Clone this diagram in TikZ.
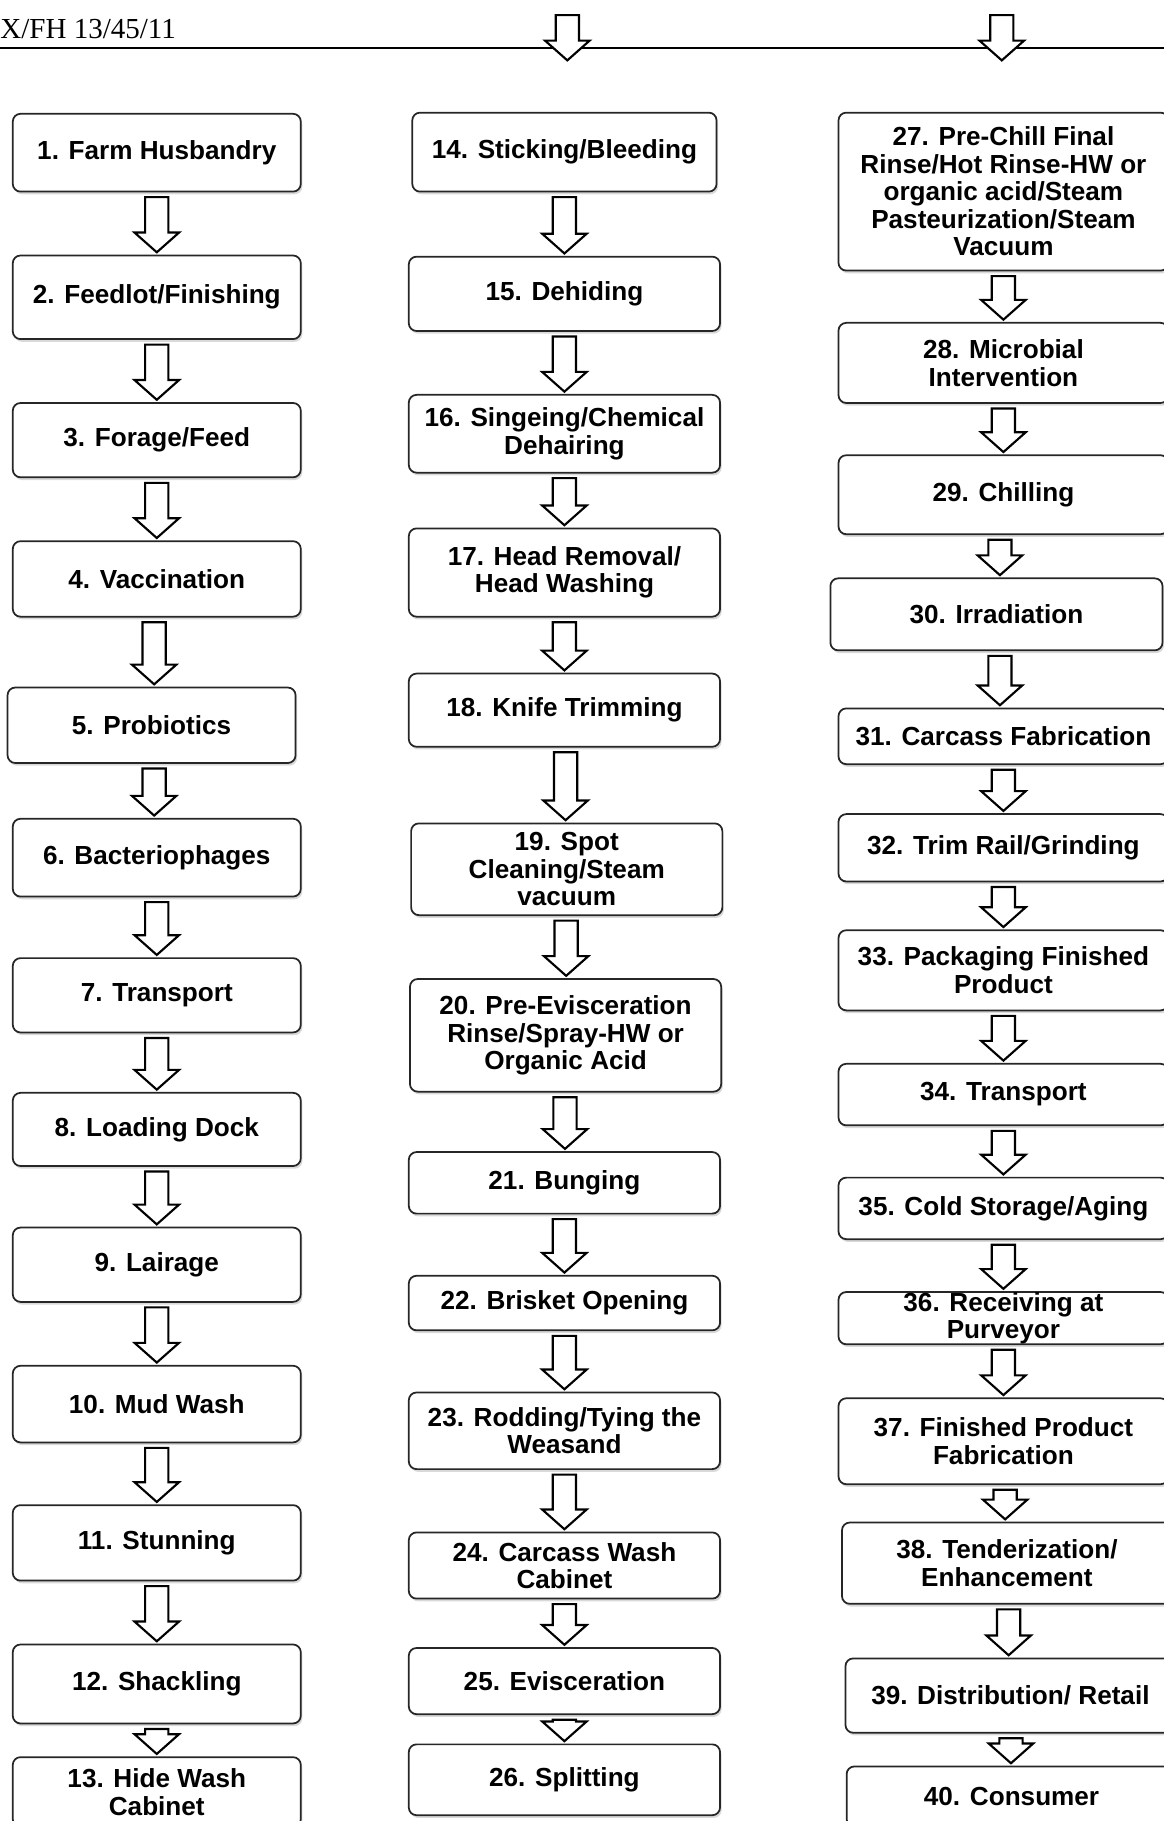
\documentclass[tikz,border=0pt]{standalone}
\usepackage{fontspec}
\setmainfont{Liberation Sans}
\newfontfamily\docreffont{Liberation Serif}
\usepackage{tikz}
\usetikzlibrary{calc,shadows}

\tikzset{
  stepbox/.style={draw=black!85,line width=0.9pt,rounded corners=4pt,fill=white,
    drop shadow={shadow xshift=0.8pt,shadow yshift=-1.4pt,opacity=0.3},
    align=center,inner ysep=1pt,font=\bfseries\fontsize{13.5}{14.2}\selectfont},
  leftcol/.style={stepbox,minimum width=148.8pt},
  midcol/.style={stepbox,minimum width=160.8pt},
  rightcol/.style={stepbox,minimum width=170.4pt},
  flowarrow/.style={draw=black,line width=1.1pt,fill=white,line join=miter}
}

% hollow block arrow from the bottom of one step to the top of the next
\newcommand{\blockarrow}[2]{%
  \draw[flowarrow] let \p1=(#1), \p2=(#2), \p3=($(#1)!0.5!(#2)$) in
    (\x3-6pt,\y1-2.4pt) -- (\x3+6pt,\y1-2.4pt) -- (\x3+6pt,\y2+11.4pt)
    -- (\x3+11.5pt,\y2+11.4pt) -- (\x3,\y2+1.2pt) -- (\x3-11.5pt,\y2+11.4pt)
    -- (\x3-6pt,\y2+11.4pt) -- cycle;}

\begin{document}
\begin{tikzpicture}[x=0.6pt,y=-0.6pt]
  \useasboundingbox (0,0) rectangle (1002,1568);

  % page header
  \node[anchor=base west,inner sep=0pt,font=\docreffont\fontsize{15}{18}\selectfont] (docref) at (0,33.5) {X/FH 13/45/11};
  \draw[line width=1pt] (0,41.6) -- (1002,41.6);

  % column 1
  \node[leftcol,minimum height=40.2pt] (s1) at (135,131.5) {1. Farm Husbandry};
  \node[leftcol,minimum height=43.2pt] (s2) at (135,256) {2. Feedlot/Finishing};
  \node[leftcol,minimum height=38.4pt] (s3) at (135,379) {3. Forage/Feed};
  \node[leftcol,minimum height=39pt] (s4) at (135,498.5) {4. Vaccination};
  \node[leftcol,minimum height=39pt] (s5) at (130.5,624.5) {5. Probiotics};
  \node[leftcol,minimum height=40.2pt] (s6) at (135,738.5) {6. Bacteriophages};
  \node[leftcol,minimum height=38.4pt] (s7) at (135,857) {7. Transport};
  \node[leftcol,minimum height=37.8pt] (s8) at (135,972.5) {8. Loading Dock};
  \node[leftcol,minimum height=38.4pt] (s9) at (135,1089) {9. Lairage};
  \node[leftcol,minimum height=39.6pt] (s10) at (135,1209) {10. Mud Wash};
  \node[leftcol,minimum height=39pt] (s11) at (135,1328.5) {11. Stunning};
  \node[leftcol,minimum height=40.8pt] (s12) at (135,1450) {12. Shackling};
  \node[leftcol,minimum height=36pt] (s13) at (135,1543) {13. Hide Wash\\Cabinet};

  % column 2
  \node[midcol,minimum width=157.2pt,minimum height=40.8pt] (s14) at (486,131) {14. Sticking/Bleeding};
  \node[midcol,minimum height=38.4pt] (s15) at (486,253) {15. Dehiding};
  \node[midcol,minimum height=40.2pt] (s16) at (486,373.5) {16. Singeing/Chemical\\Dehairing};
  \node[midcol,minimum height=45.6pt] (s17) at (486,493) {17. Head Removal/\\Head Washing};
  \node[midcol,minimum height=37.8pt] (s18) at (486,611.5) {18. Knife Trimming};
  \node[midcol,minimum height=47.4pt] (s19) at (488,748.5) {19. Spot\\Cleaning/Steam\\vacuum};
  \node[midcol,minimum height=58.2pt] (s20) at (487,891.5) {20. Pre-Evisceration\\Rinse/Spray-HW or\\Organic Acid};
  \node[midcol,minimum height=31.8pt] (s21) at (486,1018.5) {21. Bunging};
  \node[midcol,minimum height=28.2pt] (s22) at (486,1122) {22. Brisket Opening};
  \node[midcol,minimum height=39.6pt] (s23) at (486,1232) {23. Rodding/Tying the\\Weasand};
  \node[midcol,minimum height=34.2pt] (s24) at (486,1348) {24. Carcass Wash\\Cabinet};
  \node[midcol,minimum height=34.2pt] (s25) at (486,1447.5) {25. Evisceration};
  \node[midcol,minimum height=36.6pt] (s26) at (486,1532.5) {26. Splitting};

  % column 3
  \node[rightcol,minimum height=81.6pt] (s27) at (864,165) {27. Pre-Chill Final\\Rinse/Hot Rinse-HW or\\organic acid/Steam\\Pasteurization/Steam\\Vacuum};
  \node[rightcol,minimum height=41.4pt] (s28) at (864,312.5) {28. Microbial\\Intervention};
  \node[rightcol,minimum height=40.8pt] (s29) at (864,426) {29. Chilling};
  \node[rightcol,minimum width=171.6pt,minimum height=37.2pt] (s30) at (858,529) {30. Irradiation};
  \node[rightcol,minimum height=28.8pt] (s31) at (864,634) {31. Carcass Fabrication};
  \node[rightcol,minimum height=34.8pt] (s32) at (864,730) {32. Trim Rail/Grinding};
  \node[rightcol,minimum height=41.4pt] (s33) at (864,835.5) {33. Packaging Finished\\Product};
  \node[rightcol,minimum height=31.8pt] (s34) at (864,942.5) {34. Transport};
  \node[rightcol,minimum height=31.8pt] (s35) at (864,1040.5) {35. Cold Storage/Aging};
  \node[rightcol,minimum height=27pt,inner ysep=0pt] (s36) at (864,1135) {36. Receiving at\\Purveyor};
  \node[rightcol,minimum height=44.4pt] (s37) at (864,1241) {37. Finished Product\\Fabrication};
  \node[rightcol,minimum height=42pt] (s38) at (867,1346) {38. Tenderization/\\Enhancement};
  \node[rightcol,minimum height=38.4pt] (s39) at (870,1460) {39. Distribution/ Retail};
  \node[rightcol,minimum height=31.2pt] (s40) at (871,1547) {40. Consumer};

  % arrows coming in from the previous page
  \coordinate (inMid) at (488.5,9);
  \coordinate (inMidTip) at (488.5,54);
  \coordinate (inRight) at (862.6,9);
  \coordinate (inRightTip) at (862.6,54);
  \blockarrow{inMid}{inMidTip}
  \blockarrow{inRight}{inRightTip}

  % arrows between steps
  \foreach \i [evaluate=\i as \j using int(\i+1)] in {1,...,12}
    \blockarrow{s\i.south}{s\j.north};
  \foreach \i [evaluate=\i as \j using int(\i+1)] in {14,...,25}
    \blockarrow{s\i.south}{s\j.north};
  \foreach \i [evaluate=\i as \j using int(\i+1)] in {27,...,39}
    \blockarrow{s\i.south}{s\j.north};
\end{tikzpicture}
\end{document}
